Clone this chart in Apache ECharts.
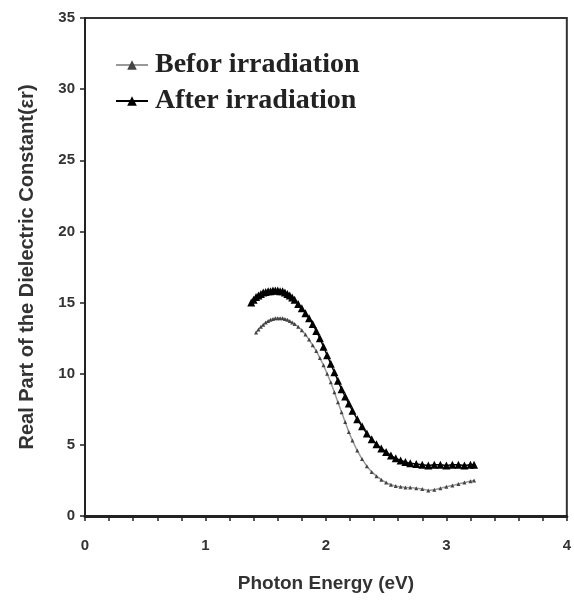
<!DOCTYPE html>
<html>
<head>
<meta charset="utf-8">
<script src="https://cdn.jsdelivr.net/npm/echarts@6/dist/echarts.min.js"></script>
<style>
  html, body { margin: 0; padding: 0; background: #fff; }
  #chart { width: 574px; height: 606px; }
</style>
</head>
<body>
<div id="chart"></div>
<script>
// photon energy (eV)
var energyAfter = [1.38,1.40,1.42,1.44,1.46,1.48,1.50,1.52,1.54,1.56,1.58,1.60,1.62,1.64,1.66,1.68,1.70,1.72,1.74,1.77,1.80,1.83,1.86,1.89,1.92,1.95,1.98,2.01,2.04,2.07,2.10,2.13,2.16,2.19,2.22,2.26,2.30,2.34,2.38,2.42,2.46,2.50,2.54,2.58,2.62,2.66,2.70,2.75,2.80,2.85,2.90,2.95,3.00,3.05,3.10,3.15,3.20,3.23];
var afterValues = [15.0,15.2,15.4,15.5,15.6,15.7,15.75,15.8,15.8,15.85,15.85,15.85,15.8,15.8,15.7,15.6,15.5,15.35,15.2,14.9,14.6,14.25,13.9,13.5,13.0,12.5,11.9,11.3,10.7,10.1,9.5,8.9,8.4,7.9,7.4,6.8,6.3,5.8,5.4,5.05,4.75,4.5,4.25,4.05,3.9,3.8,3.7,3.65,3.6,3.55,3.6,3.6,3.55,3.6,3.6,3.55,3.6,3.6];

var energyBefore = [1.42,1.44,1.46,1.48,1.50,1.52,1.54,1.56,1.58,1.60,1.62,1.64,1.66,1.68,1.70,1.72,1.74,1.77,1.80,1.83,1.86,1.89,1.92,1.95,1.98,2.01,2.04,2.07,2.10,2.13,2.16,2.19,2.22,2.26,2.30,2.34,2.38,2.42,2.46,2.50,2.54,2.58,2.62,2.66,2.70,2.75,2.80,2.85,2.90,2.95,3.00,3.05,3.10,3.15,3.20,3.23];
var beforeValues = [12.9,13.1,13.3,13.45,13.6,13.7,13.8,13.85,13.9,13.9,13.9,13.9,13.85,13.8,13.7,13.6,13.5,13.3,13.05,12.75,12.4,12.0,11.6,11.1,10.6,10.0,9.4,8.7,8.0,7.3,6.6,5.9,5.3,4.6,4.0,3.5,3.1,2.8,2.55,2.35,2.2,2.1,2.05,2.0,2.0,1.95,1.9,1.8,1.85,1.95,2.05,2.15,2.25,2.35,2.45,2.5];

var xTicks = [0, 1, 2, 3, 4];
var yTicks = [0, 5, 10, 15, 20, 25, 30, 35];

function pairs(xs, ys) {
  return xs.map(function (x, i) { return [x, ys[i]]; });
}

var myChart = echarts.init(document.getElementById('chart'));
var labelFont = { fontFamily: 'Liberation Sans', fontWeight: 'bold', fontSize: 15, color: '#333' };

var option = {
  animation: false,
  grid: {
    left: 85, right: 3, top: 18, bottom: 90,
    show: true, borderColor: '#333', borderWidth: 2, backgroundColor: '#fff'
  },
  legend: {
    orient: 'vertical',
    left: 110, top: 46,
    itemWidth: 32, itemHeight: 12, itemGap: 8,
    textStyle: {
      fontFamily: 'Liberation Serif', fontWeight: 'bold', fontSize: 28, color: '#222',
      padding: [0, 0, 0, 2]
    },
    data: ['Befor irradiation', 'After irradiation']
  },
  xAxis: {
    type: 'value',
    min: xTicks[0], max: xTicks[xTicks.length - 1], interval: 1,
    name: 'Photon Energy (eV)',
    nameLocation: 'middle', nameGap: 58,
    nameTextStyle: { fontFamily: 'Liberation Sans', fontWeight: 'bold', fontSize: 19, color: '#333' },
    axisLine: { lineStyle: { color: '#222', width: 3 } },
    axisTick: { length: 5, lineStyle: { color: '#222', width: 1.5 } },
    minorTick: { show: true, splitNumber: 5, length: 5, lineStyle: { color: '#222', width: 1.5 } },
    axisLabel: Object.assign({ margin: 22 }, labelFont),
    splitLine: { show: false }
  },
  yAxis: {
    type: 'value',
    min: yTicks[0], max: yTicks[yTicks.length - 1], interval: 5,
    name: 'Real Part of the Dielectric Constant(εr)',
    nameLocation: 'middle', nameGap: 48,
    nameTextStyle: { fontFamily: 'Liberation Sans', fontWeight: 'bold', fontSize: 20, color: '#333' },
    axisLine: { lineStyle: { color: '#222', width: 2 } },
    axisTick: { length: 5, lineStyle: { color: '#222', width: 1.5 } },
    axisLabel: Object.assign({ margin: 10 }, labelFont),
    splitLine: { show: false }
  },
  series: [
    {
      name: 'Befor irradiation',
      type: 'line',
      data: pairs(energyBefore, beforeValues),
      symbol: 'triangle', symbolSize: 4,
      itemStyle: { color: '#444' },
      lineStyle: { color: '#999', width: 1.5 }
    },
    {
      name: 'After irradiation',
      type: 'line',
      data: pairs(energyAfter, afterValues),
      symbol: 'triangle', symbolSize: 8,
      itemStyle: { color: '#000' },
      lineStyle: { color: '#000', width: 1.5 }
    }
  ]
};
myChart.setOption(option);
</script>
</body>
</html>
